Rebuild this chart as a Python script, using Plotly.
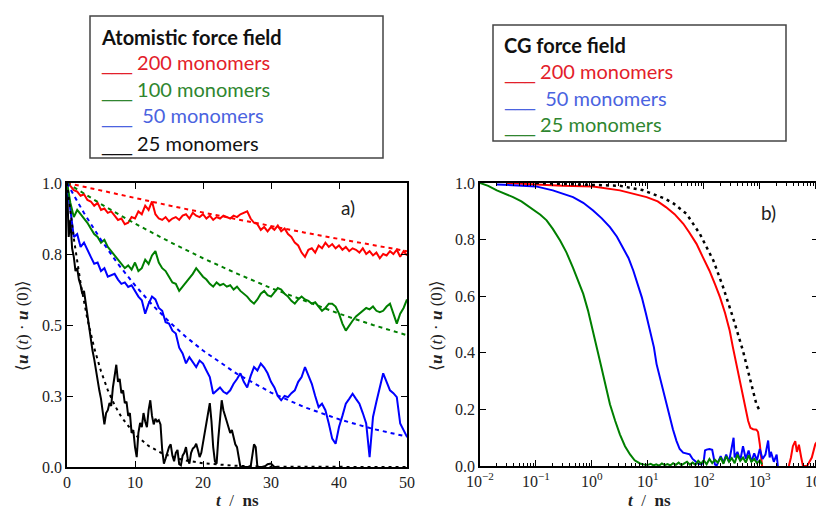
import plotly.graph_objects as go

# page body has an 8px margin: figure occupies page pixels 8..824 x 8..511
W, H = 816, 503
OFF = 8
def px(x): return (x - OFF) / W
def py(y): return 1 - (y - OFF) / H

# ---------------- Panel a) atomistic force field (t in ns, step 0.5) ----------------
red_a = [1.0, 0.99, 0.975, 0.97, 0.955, 0.96, 0.94, 0.935, 0.92, 0.93,
         0.905, 0.91, 0.895, 0.9, 0.885, 0.87, 0.875, 0.855, 0.86, 0.88,
         0.875, 0.9, 0.89, 0.92, 0.905, 0.935, 0.89, 0.875, 0.87, 0.88,
         0.865, 0.875, 0.88, 0.87, 0.885, 0.89, 0.875, 0.895, 0.885, 0.88,
         0.89, 0.875, 0.885, 0.87, 0.88, 0.875, 0.885, 0.88, 0.875, 0.885,
         0.88, 0.89, 0.895, 0.9, 0.875, 0.86, 0.855, 0.835, 0.845, 0.83,
         0.845, 0.835, 0.85, 0.83, 0.84, 0.82, 0.81, 0.79, 0.78, 0.755,
         0.74, 0.765, 0.77, 0.755, 0.78, 0.77, 0.79, 0.775, 0.785, 0.77,
         0.78, 0.765, 0.775, 0.76, 0.77, 0.765, 0.755, 0.77, 0.75, 0.76,
         0.745, 0.755, 0.735, 0.75, 0.745, 0.76, 0.75, 0.765, 0.74, 0.76,
         0.745]
green_a = [1.0, 0.93, 0.88, 0.905, 0.89, 0.875, 0.86, 0.84, 0.82, 0.81,
           0.79, 0.8, 0.775, 0.76, 0.745, 0.73, 0.715, 0.7, 0.71, 0.695,
           0.72, 0.69, 0.7, 0.73, 0.715, 0.745, 0.76, 0.72, 0.7, 0.69,
           0.67, 0.65, 0.645, 0.62, 0.635, 0.65, 0.665, 0.68, 0.7, 0.685,
           0.67, 0.66, 0.645, 0.635, 0.65, 0.64, 0.645, 0.635, 0.64, 0.625,
           0.635, 0.62, 0.61, 0.6, 0.585, 0.575, 0.59, 0.61, 0.62, 0.605,
           0.6, 0.615, 0.63, 0.625, 0.61, 0.6, 0.585, 0.575, 0.59, 0.6,
           0.59, 0.585, 0.575, 0.58, 0.565, 0.55, 0.56, 0.575, 0.575, 0.565,
           0.54, 0.505, 0.48, 0.5, 0.515, 0.53, 0.54, 0.55, 0.56, 0.555,
           0.565, 0.55, 0.545, 0.55, 0.565, 0.575, 0.54, 0.505, 0.54, 0.56,
           0.59]
blue_a = [1.0, 0.9, 0.81, 0.82, 0.775, 0.79, 0.763, 0.74, 0.716, 0.72,
          0.69, 0.7, 0.67, 0.675, 0.68, 0.66, 0.645, 0.65, 0.634, 0.64,
          0.62, 0.6, 0.587, 0.54, 0.575, 0.6, 0.59, 0.56, 0.55, 0.51,
          0.505, 0.48, 0.47, 0.42, 0.4, 0.365, 0.387, 0.37, 0.352, 0.375,
          0.364, 0.34, 0.317, 0.258, 0.27, 0.28, 0.265, 0.258, 0.27, 0.293,
          0.31, 0.33, 0.3, 0.28, 0.32, 0.352, 0.34, 0.364, 0.35, 0.33,
          0.3, 0.28, 0.25, 0.235, 0.25, 0.246, 0.26, 0.27, 0.3, 0.317,
          0.352, 0.32, 0.293, 0.25, 0.211, 0.223, 0.2, 0.153, 0.1, 0.082,
          0.141, 0.18, 0.223, 0.24, 0.258, 0.24, 0.223, 0.19, 0.153, 0.035,
          0.176, 0.23, 0.282, 0.33, 0.3, 0.27, 0.26, 0.246, 0.153, 0.13,
          0.106]
t_half = [0.5 * i for i in range(101)]

black_a_t = [0, 0.25, 0.5, 0.75, 1.0, 1.25, 1.5, 1.75, 2.0, 2.25, 2.5, 2.75, 3.0, 3.25, 3.5,
             3.75, 4.0, 4.25, 4.5, 4.75, 5.0, 5.25, 5.5, 5.75, 6.0, 6.25, 6.5, 6.75, 7.0, 7.25,
             7.5, 7.75, 8.0, 8.25, 8.5, 8.75, 9.0, 9.25, 9.5, 9.75, 10.0, 10.25, 10.5, 10.75,
             11.0, 11.25, 11.5, 11.75, 12.0, 12.25, 12.5, 12.75, 13.0, 13.25, 13.5, 13.75,
             14.0, 14.25, 14.5, 14.75, 15.0, 15.25, 15.5, 15.75, 16.0, 16.25, 16.5, 16.75,
             17.0, 17.25, 17.5, 17.75, 18.0, 18.25, 18.5, 18.75, 19.0, 19.25, 19.5, 19.75,
             20.0, 20.25, 20.5, 20.75, 21.0, 21.25, 21.5, 21.75, 22.0, 22.25, 22.5, 22.75,
             23.0, 23.25, 23.5, 23.75, 24.0, 24.25, 24.5, 24.75, 25.0, 25.25, 25.5, 26.0,
             26.5, 27.0, 27.25, 27.5, 27.75, 28.0, 29.0, 29.5, 30.0, 30.5, 31.0]
black_a = [1.0, 0.81, 0.87, 0.77, 0.74, 0.69, 0.7, 0.66, 0.64, 0.61, 0.62, 0.575, 0.54, 0.49, 0.45,
           0.41, 0.38, 0.34, 0.31, 0.27, 0.24, 0.2, 0.15, 0.19, 0.2, 0.225, 0.215, 0.28, 0.33, 0.36,
           0.3, 0.31, 0.26, 0.27, 0.225, 0.23, 0.18, 0.19, 0.12, 0.13, 0.07, 0.035, 0.12, 0.155,
           0.14, 0.19, 0.16, 0.14, 0.2, 0.235, 0.18, 0.15, 0.17, 0.16, 0.165, 0.15,
           0.06, 0.012, 0.03, 0.05, 0.07, 0.08, 0.04, 0.02, 0.05, 0.06, 0.01, 0.006,
           0.04, 0.05, 0.07, 0.03, 0.012, 0.05, 0.065, 0.07, 0.082, 0.06, 0.035, 0.05,
           0.08, 0.12, 0.155, 0.2, 0.225, 0.16, 0.07, 0.02, 0.012, 0.1, 0.16, 0.235,
           0.2, 0.175, 0.16, 0.14, 0.12, 0.13, 0.105, 0.08, 0.07, 0.03, 0.0, 0.0,
           0.0, 0.0, 0.04, 0.08, 0.07, 0.0, 0.0, 0.01, 0.012, 0.0, 0.0]

# exponential fits (dashed)
fit_red_t = [0, 5, 10, 15, 20, 25, 30, 35, 40, 45, 50]
fit_red = [1.0, 0.973, 0.946, 0.921, 0.896, 0.872, 0.848, 0.825, 0.803, 0.781, 0.76]
fit_green_t = [0, 5, 10, 15, 20, 25, 30, 35, 40, 45, 50]
fit_green = [1.0, 0.926, 0.857, 0.794, 0.735, 0.681, 0.63, 0.584, 0.54, 0.5, 0.464]
fit_blue_t = [0, 2.5, 5, 7.5, 10, 12.5, 15, 17.5, 20, 25, 30, 35, 40, 45, 50]
fit_blue = [1.0, 0.894, 0.8, 0.715, 0.64, 0.572, 0.512, 0.458, 0.41, 0.328, 0.262, 0.21, 0.168, 0.134, 0.107]
fit_black_t = [0, 1, 2, 3, 4, 5, 6, 7, 8, 10, 12, 14, 17, 20, 25, 30, 50]
fit_black = [1.0, 0.805, 0.647, 0.521, 0.419, 0.337, 0.271, 0.218, 0.176, 0.114, 0.074, 0.048, 0.025, 0.013, 0.004, 0.001, 0.0]

# ---------------- Panel b) CG force field (log t) ----------------
green_b_t = [0.01, 0.014, 0.02, 0.028, 0.039, 0.055, 0.078, 0.096, 0.12, 0.155, 0.2, 0.27, 0.35,
             0.46, 0.57, 0.7, 0.85, 1.05, 1.25, 1.48, 1.75, 2.1, 2.6, 3.16, 3.9, 4.8, 5.8, 7.2, 9,
             10, 11.2, 12.6, 14.1, 15.8, 17.8, 20, 22.4, 25.1, 28.2, 31.6, 35.5, 39.8, 44.7, 50.1,
             56.2, 63.1, 70.8, 79.4, 89.1, 100, 112, 126, 141, 158, 178, 200, 224, 251, 282, 316,
             355, 398, 447, 501, 562, 631, 708, 794, 891, 1000, 1100]
green_b = [1.0, 0.99, 0.974, 0.962, 0.95, 0.935, 0.915, 0.903, 0.888, 0.868, 0.838, 0.797, 0.755,
           0.7, 0.655, 0.608, 0.55, 0.478, 0.41, 0.348, 0.285, 0.218, 0.16, 0.112, 0.07, 0.041, 0.02, 0.009, 0.004,
           0.004, 0.008, 0.002, 0.006, 0.001, 0.009, 0.003, 0.007, 0.002, 0.01, 0.004, 0.012, 0.003, 0.009, 0.015,
           0.005, 0.012, 0.004, 0.018, 0.008, 0.02, 0.006, 0.025, 0.01, 0.022, 0.012, 0.03, 0.008, 0.035, 0.015, 0.028,
           0.01, 0.04, 0.018, 0.03, 0.012, 0.038, 0.015, 0.025, 0.01, 0.02, 0.005]

blue_b_t = [0.02, 0.03, 0.05, 0.1, 0.2, 0.3, 0.46, 0.7, 1.05, 1.5, 2.1, 2.8, 3.6, 4.5, 5.5, 6.6,
            7.8, 9.2, 11, 12.8, 14.3, 16.5, 18.6, 21, 24.5, 28, 32.4, 37, 42.7, 50, 56, 63, 69, 80,
            91, 100, 105, 112, 126, 141, 150, 158, 170, 178, 200, 224, 251, 282, 316, 340, 355, 398,
            447, 501, 562, 631, 708, 794, 891, 1000, 1120, 1260, 1410, 1500, 1580, 1780, 2000, 2100]
blue_b = [0.995, 0.993, 0.99, 0.988, 0.974, 0.962, 0.95, 0.93, 0.903, 0.875, 0.844, 0.81, 0.773, 0.735, 0.69, 0.645,
          0.596, 0.54, 0.478, 0.42, 0.36, 0.31, 0.266, 0.22, 0.171, 0.13, 0.089, 0.06, 0.047, 0.043, 0.041, 0.025, 0.018, 0.008,
          0.006, 0.02, 0.055, 0.058, 0.06, 0.057, 0.03, 0.005, 0.002, 0.01, 0.035, 0.012, 0.04, 0.015, 0.06, 0.1, 0.03, 0.05,
          0.02, 0.07, 0.025, 0.055, 0.015, 0.045, 0.02, 0.06, 0.025, 0.04, 0.09, 0.03, 0.05, 0.015, 0.04, 0.0]

red_b_t = [0.03, 0.05, 0.1, 0.3, 1.05, 3.16, 9.5, 15, 21, 30, 43, 55, 74, 95, 126, 160, 195, 240,
           290, 330, 380, 440, 500, 560, 620, 680, 760, 870, 930, 1000, 1070, 1100,
           None, 3300, 3600, 3900, 4300, 4600, 5000, 5500, 5900, 7000, 8500, 9800, 11000]
red_b = [1.0, 0.997, 0.995, 0.99, 0.988, 0.974, 0.95, 0.935, 0.915, 0.89, 0.856, 0.825, 0.785, 0.74, 0.69, 0.64, 0.596, 0.54,
         0.478, 0.42, 0.36, 0.3, 0.242, 0.2, 0.159, 0.135, 0.13, 0.128, 0.12, 0.077, 0.006, 0.0,
         None, 0.0, 0.03, 0.07, 0.088, 0.05, 0.075, 0.03, 0.0, 0.0, 0.03, 0.077, 0.09]

fit_b_t = [0.1, 0.3, 1, 3.16, 8, 12.6, 20, 29, 49, 85, 148, 221, 331, 500, 660, 870, 1000]
fit_b = [1.0, 0.997, 0.993, 0.99, 0.975, 0.96, 0.945, 0.927, 0.891, 0.82, 0.726, 0.632, 0.525, 0.407, 0.313, 0.218, 0.195]

y_ticks_a = [0, 0.25, 0.5, 0.75, 1.0]
y_labels_a = ["0.0", "0.3", "0.5", "0.8", "1.0"]
x_ticks_a = [0, 10, 20, 30, 40, 50]
y_ticks_b = [0, 0.2, 0.4, 0.6, 0.8, 1.0]
y_labels_b = ["0.0", "0.2", "0.4", "0.6", "0.8", "1.0"]
x_ticks_b = [0.01, 0.1, 1, 10, 100, 1000, 10000]
x_labels_b = ["10<sup>−2</sup>", "10<sup>−1</sup>", "10<sup>0</sup>", "10<sup>1</sup>",
              "10<sup>2</sup>", "10<sup>3</sup>", "10<sup>4</sup>"]
minor_b = [k * 10.0 ** e for e in range(-2, 4) for k in range(2, 10)]

RED, GREEN, BLUE, BLACK = "#ff0000", "#007f00", "#0000ff", "#000000"

fig = go.Figure()
def line(x, y, color, xa, ya, dash="solid", width=2):
    fig.add_trace(go.Scatter(x=x, y=y, mode="lines", xaxis=xa, yaxis=ya,
                             line=dict(color=color, width=width, dash=dash),
                             showlegend=False, hoverinfo="skip", connectgaps=False))

line(black_a_t, black_a, BLACK, "x", "y")
line(t_half, blue_a, BLUE, "x", "y")
line(t_half, green_a, GREEN, "x", "y")
line(t_half, red_a, RED, "x", "y")
line(fit_red_t, fit_red, RED, "x", "y", dash="4px,4px")
line(fit_green_t, fit_green, GREEN, "x", "y", dash="4px,4px")
line(fit_blue_t, fit_blue, BLUE, "x", "y", dash="4px,4px")
line(fit_black_t, fit_black, BLACK, "x", "y", dash="3px,4px")

line(red_b_t, red_b, RED, "x2", "y2")
line(blue_b_t, blue_b, BLUE, "x2", "y2")
line(green_b_t, green_b, GREEN, "x2", "y2")
line(fit_b_t, fit_b, BLACK, "x2", "y2", dash="3px,4px", width=2.5)

tickfont = dict(family="Liberation Serif", size=16, color="#222")
axis_common = dict(showline=True, linecolor="black", linewidth=1.5, mirror="ticks",
                   ticks="inside", ticklen=6, tickcolor="black", tickwidth=1,
                   showgrid=False, zeroline=False, tickfont=tickfont, automargin=False,
                   ticklabeloverflow="allow")

fig.update_layout(
    width=W, height=H, margin=dict(l=0, r=0, t=0, b=0),
    paper_bgcolor="white", plot_bgcolor="white",
    xaxis=dict(domain=[px(67), px(407)], range=[0, 50], tickmode="array",
               tickvals=x_ticks_a, anchor="y", **axis_common),
    yaxis=dict(domain=[py(467), py(183)], range=[0, 1], tickmode="array",
               tickvals=y_ticks_a, ticktext=y_labels_a, anchor="x", **axis_common),
    xaxis2=dict(domain=[px(480), px(818)], type="log", range=[-2, 4.04], tickmode="array",
                tickvals=x_ticks_b, ticktext=x_labels_b, anchor="y2",
                minor=dict(ticks="inside", ticklen=3, tickcolor="black", tickmode="array",
                           tickvals=minor_b, showgrid=False),
                **axis_common),
    yaxis2=dict(domain=[py(466), py(183)], range=[0, 1], tickmode="array",
                tickvals=y_ticks_b, ticktext=y_labels_b, anchor="x2", **axis_common),
)

ann = []
titlefont = dict(family="Liberation Serif", size=17, color="#222")
ann.append(dict(x=px(237), y=py(500), text="<b><i>t</i></b>  /  <b>ns</b>", font=titlefont))
ann.append(dict(x=px(649), y=py(500), text="<b><i>t</i></b>  /  <b>ns</b>", font=titlefont))
ytitle = "⟨<b><i>u</i></b> (<i>t</i>) · <b><i>u</i></b> (0)⟩"
ann.append(dict(x=px(22), y=py(325), text=ytitle, textangle=-90, font=titlefont))
ann.append(dict(x=px(436), y=py(325), text=ytitle, textangle=-90, font=titlefont))
ann.append(dict(x=px(348), y=py(208), text="a)", font=dict(family="Lato", size=19, color="#222")))
ann.append(dict(x=px(768), y=py(212), text="b)", font=dict(family="Lato", size=19, color="#222")))

LRED, LGREEN, LBLUE, LBLACK = "#e3202a", "#2f862f", "#4a63e0", "#111111"
legfont = "Lato"
US = '<span style="font-family:DejaVu Sans">___</span>'
# left legend
ann.append(dict(x=px(99), y=py(37), text="<b>Atomistic force field</b>", xanchor="left",
                font=dict(family=legfont, size=20, color="#111")))
left_items = [(US + " 200 monomers", LRED, 63), (US + " 100 monomers", LGREEN, 90),
              (US + " &nbsp;50 monomers", LBLUE, 116), (US + " 25 monomers", LBLACK, 143)]
for txt, c, yy in left_items:
    ann.append(dict(x=px(99), y=py(yy), text=txt, xanchor="left",
                    font=dict(family=legfont, size=20, color=c)))
# right legend
ann.append(dict(x=px(502), y=py(45), text="<b>CG force field</b>", xanchor="left",
                font=dict(family=legfont, size=20, color="#111")))
right_items = [(US + " 200 monomers", LRED, 72), (US + " &nbsp;50 monomers", LBLUE, 99),
               (US + " 25 monomers", LGREEN, 125)]
for txt, c, yy in right_items:
    ann.append(dict(x=px(502), y=py(yy), text=txt, xanchor="left",
                    font=dict(family=legfont, size=20, color=c)))
for a in ann:
    a.setdefault("xanchor", "center")
    a.update(xref="paper", yref="paper", yanchor="middle", showarrow=False)
fig.update_layout(annotations=ann)

fig.update_layout(shapes=[
    dict(type="rect", xref="paper", yref="paper", x0=px(90), x1=px(383), y0=py(158), y1=py(16),
         line=dict(color="#444", width=1.5)),
    dict(type="rect", xref="paper", yref="paper", x0=px(493), x1=px(786), y0=py(141), y1=py(25),
         line=dict(color="#444", width=1.5)),
])

fig.write_html("out.html")
